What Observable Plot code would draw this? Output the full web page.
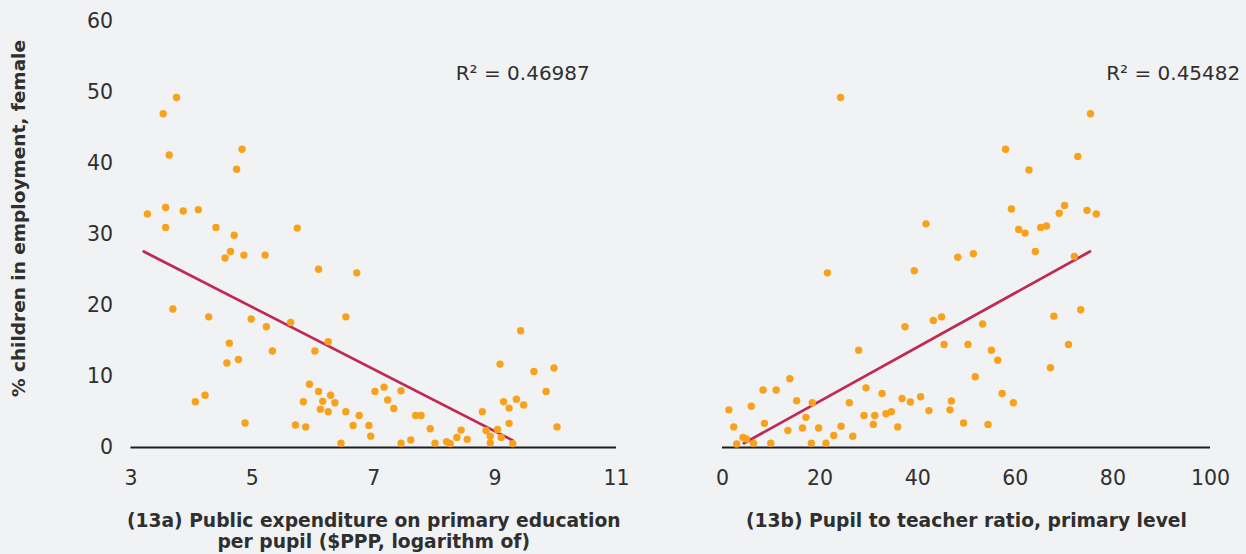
<!DOCTYPE html>
<html>
<head>
<meta charset="utf-8">
<script src="https://cdn.jsdelivr.net/npm/d3@7"></script>
<script src="https://cdn.jsdelivr.net/npm/@observablehq/plot@0.6"></script>
<style>
  html, body { margin: 0; padding: 0; background: #f1f2f4; }
  #wrap { display: flex; width: 1246px; height: 554px; }
  #wrap svg { overflow: visible; }
</style>
</head>
<body>
<div id="wrap"></div>
<script>
// ---- Panel 13a: public expenditure on primary education per pupil (log $PPP)
const expX = [3.75,3.53,3.63,4.83,4.74,3.27,3.57,3.86,4.11,3.57,4.40,4.70,5.74,4.64,4.55,4.86,5.21,
  3.69,4.28,4.98,5.23,5.63,4.62,5.33,4.77,4.58,4.06,4.22,4.88,5.71,
  6.09,6.72,6.54,6.25,6.03,5.94,6.09,6.29,5.84,6.16,6.36,6.12,6.25,6.54,6.76,5.88,6.66,6.92,6.95,6.46,
  7.02,7.17,7.45,7.23,7.33,7.69,7.78,7.45,7.61,7.93,8.01,8.20,8.26,8.37,8.44,8.54,
  9.42,9.08,9.64,9.97,9.84,9.14,9.35,9.23,9.47,8.79,9.23,10.02,8.85,9.04,8.92,9.10,8.92,9.29];
const expY = [49.3,47.0,41.2,42.0,39.2,32.9,33.8,33.3,33.5,31.0,31.0,29.9,30.9,27.6,26.7,27.1,27.1,
  19.5,18.4,18.1,17.0,17.6,14.7,13.6,12.4,11.9,6.45,7.35,3.45,3.17,
  25.1,24.6,18.4,14.9,13.6,8.9,7.9,7.35,6.45,6.5,6.3,5.4,5.05,5.05,4.5,2.9,3.1,3.1,1.6,0.6,
  7.9,8.5,8.0,6.7,5.5,4.5,4.5,0.6,1.05,2.65,0.6,0.8,0.55,1.4,2.45,1.15,
  16.45,11.75,10.7,11.2,7.9,6.45,6.8,5.55,6.0,5.05,3.4,2.9,2.4,2.55,1.6,1.4,0.63,0.55];
const expFitX = [3.21, 9.29];
const expFitY = [27.6, 1.0];
const expR2 = "R\u00B2 = 0.46987";

// ---- Panel 13b: pupil to teacher ratio, primary level
const ptrX = [1.3,2.3,2.9,4.2,4.9,6.35,5.9,8.6,8.3,11.0,9.9,13.8,15.2,13.4,18.4,17.1,16.4,18.2,19.7,21.2,
  22.8,24.3,26.7,27.9,26.0,29.4,32.7,29.0,31.2,30.9,33.5,34.6,35.9,36.8,
  58.0,62.8,72.8,59.2,70.1,69.0,60.7,62.0,65.2,66.4,41.7,64.1,72.1,48.2,51.4,39.3,
  43.2,44.9,37.4,53.3,67.9,73.4,45.4,50.3,55.1,56.4,70.9,67.2,51.8,38.5,40.6,46.9,46.6,42.3,
  57.3,59.6,49.4,54.4,75.4,74.7,76.6,24.2,21.5];
const ptrY = [5.3,2.9,0.5,1.4,1.2,0.6,5.8,3.4,8.1,8.1,0.6,9.7,6.6,2.4,6.3,4.25,2.75,0.6,2.75,0.6,
  1.7,3.0,1.6,13.7,6.3,8.4,7.6,4.5,4.5,3.25,4.75,5.05,2.9,6.9,
  42.0,39.1,41.0,33.6,34.1,33.0,30.7,30.2,31.0,31.2,31.5,27.6,26.9,26.8,27.3,24.9,
  17.9,18.4,17.0,17.4,18.5,19.4,14.5,14.5,13.7,12.3,14.5,11.25,9.97,6.4,7.15,6.55,5.3,5.2,
  7.6,6.3,3.45,3.25,47.0,33.4,32.9,49.3,24.6];
const ptrFitX = [4.4, 75.3];
const ptrFitY = [0.6, 27.6];
const ptrR2 = "R\u00B2 = 0.45482";

const yTicks = [0, 10, 20, 30, 40, 50, 60];
const expTicks = [3, 5, 7, 9, 11];
const ptrTicks = [0, 20, 40, 60, 80, 100];
const yTitle = "% children in employment, female";
const expTitle = "(13a) Public expenditure on primary education\nper pupil ($PPP, logarithm of)";
const ptrTitle = "(13b) Pupil to teacher ratio, primary level";
const r2Pos = { exp: [10.56, 52.6], ptr: [106.1, 52.6] };

const DOT = "#f8a21c", LINE = "#c02a52", TXT = "#2f2f2f";
const FONT = "'DejaVu Sans', sans-serif";

function pts(xs, ys) { return xs.map((x, i) => ({x, y: ys[i]})); }

function panel({width, marginLeft, marginRight, xDomain, xTicks, xs, ys, fitX, fitY, r2, r2xy, title, showY}) {
  const marks = [
    Plot.ruleY([0], {stroke: "#1e1e1e", strokeWidth: 2}),
    Plot.axisX({ticks: xTicks, tickSize: 0, tickPadding: 23, fontSize: 20.5, label: null, color: TXT}),
    Plot.line(pts(fitX, fitY), {x: "x", y: "y", stroke: LINE, strokeWidth: 2.8}),
    Plot.dot(pts(xs, ys), {x: "x", y: "y", r: 3.7, fill: DOT, stroke: "none"}),
    Plot.text([r2], {x: () => r2xy[0], y: () => r2xy[1], text: d => d, textAnchor: "end", fontSize: 20, fill: TXT}),
    Plot.text([title], {frameAnchor: "bottom", text: d => d, textAnchor: "middle", lineAnchor: "top", dy: 64, fontSize: 18.7, fontWeight: "bold", fill: TXT, lineHeight: 1.13})
  ];
  if (showY) {
    marks.push(Plot.axisY({ticks: yTicks, tickSize: 0, tickPadding: 18, fontSize: 20.5, label: null, color: TXT}));
    marks.push(Plot.text([yTitle], {frameAnchor: "left", text: d => d, textAnchor: "middle", lineAnchor: "middle", rotate: -90, dx: -112, dy: -16, fontSize: 18.5, fontWeight: "bold", fill: TXT}));
  } else {
    marks.push(Plot.axisY({ticks: [], label: null, tickSize: 0}));
  }
  return Plot.plot({
    width, height: 554,
    marginLeft, marginRight, marginTop: 21, marginBottom: 107,
    style: {background: "transparent", fontFamily: FONT, color: TXT, overflow: "visible"},
    x: {domain: xDomain},
    y: {domain: [0, 60]},
    marks
  });
}

const wrap = document.getElementById("wrap");
wrap.appendChild(panel({width: 650, marginLeft: 130.5, marginRight: 34, xDomain: [3, 11], xTicks: expTicks,
  xs: expX, ys: expY, fitX: expFitX, fitY: expFitY, r2: expR2, r2xy: r2Pos.exp, title: expTitle, showY: true}));
wrap.appendChild(panel({width: 596, marginLeft: 72, marginRight: 36, xDomain: [0, 100], xTicks: ptrTicks,
  xs: ptrX, ys: ptrY, fitX: ptrFitX, fitY: ptrFitY, r2: ptrR2, r2xy: r2Pos.ptr, title: ptrTitle, showY: false}));
</script>
</body>
</html>
